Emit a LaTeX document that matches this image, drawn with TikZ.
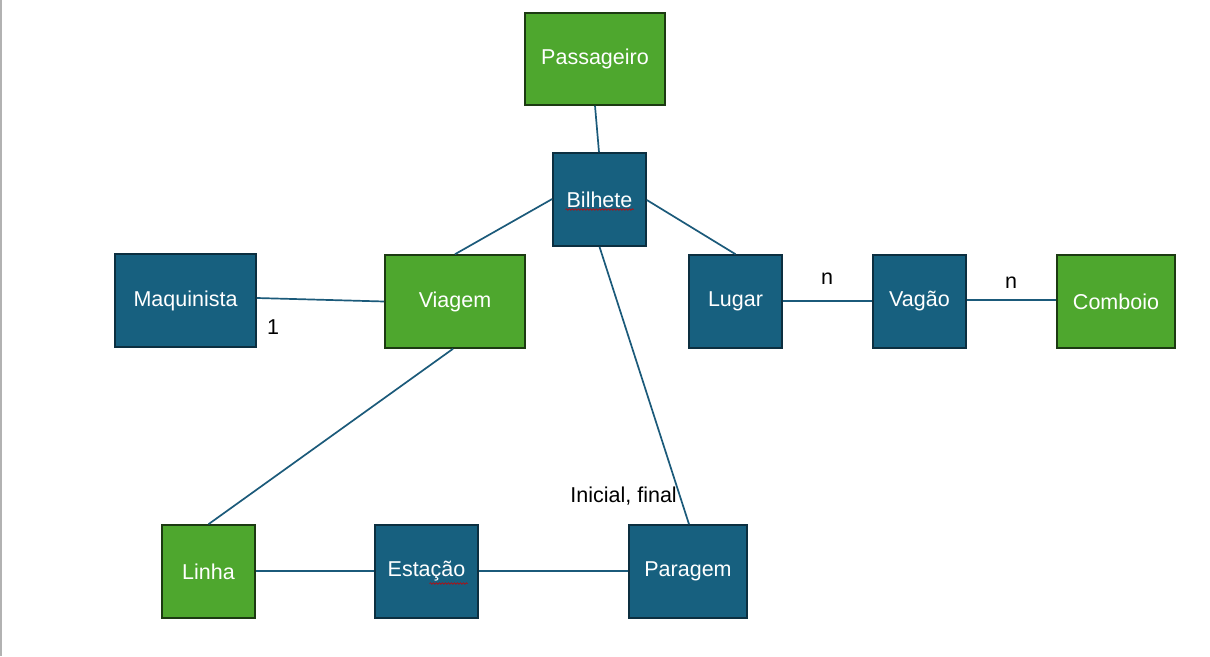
\documentclass[tikz,border=0pt]{standalone}
\usepackage{fontspec}
\setmainfont{Liberation Sans}
\usetikzlibrary{decorations.pathmorphing}
\definecolor{bfill}{HTML}{17607F}
\definecolor{bline}{HTML}{0C2F40}
\definecolor{gfill}{HTML}{4EA72E}
\definecolor{gline}{HTML}{1C3A12}
\definecolor{conn}{HTML}{1B5A7A}
\begin{document}
\begin{tikzpicture}[x=1pt,y=-1pt,
  ent/.style={draw=bline,fill=bfill,line width=1.6pt,text=white,font=\fontsize{21.5}{24}\selectfont,inner sep=0pt},
  gent/.style={ent,draw=gline,fill=gfill},
  link/.style={draw=conn,line width=1.7pt},
  lbl/.style={text=black,font=\fontsize{21.5}{24}\selectfont,inner sep=0pt},
  squig/.style={draw=red!80!black,line width=0.6pt,decorate,decoration={snake,amplitude=0.8pt,segment length=3pt}}]
\useasboundingbox[fill=white] (0,0) rectangle (1210,656);
\draw[gray!60,line width=1.5pt] (0.75,0) -- (0.75,656);
% entities
\node[gent,minimum width=140pt,minimum height=92pt] (pass) at (595,59) {Passageiro};
\node[ent,minimum width=93pt,minimum height=93pt] (bil) at (599.5,199.5) {Bilhete};
\node[ent,minimum width=141pt,minimum height=93pt] (maq) at (185.5,300.5) {Maquinista};
\node[gent,minimum width=140pt,minimum height=93pt] (via) at (455,301.5) {Viagem};
\node[ent,minimum width=93pt,minimum height=93pt] (lug) at (735.5,301.5) {Lugar};
\node[ent,minimum width=93pt,minimum height=93pt] (vag) at (919.5,301.5) {Vagão};
\node[gent,minimum width=118pt,minimum height=93pt] (com) at (1116,301.5) {Comboio};
\node[gent,minimum width=93pt,minimum height=93pt] (lin) at (208.5,571.5) {Linha};
\node[ent,minimum width=103pt,minimum height=93pt] (est) at (426.5,571.5) {Estação};
\node[ent,minimum width=118pt,minimum height=93pt] (par) at (688,571.5) {Paragem};
% spellcheck marks
\draw[squig] ([xshift=-34pt,yshift=-10pt]bil.center) -- ([xshift=34pt,yshift=-10pt]bil.center);
\draw[squig] ([xshift=3pt,yshift=-12pt]est.center) -- ([xshift=41pt,yshift=-12pt]est.center);
% connectors
\draw[link] (pass.south) -- ([xshift=-0.5pt]bil.north);
\draw[link] ([yshift=0.5pt]bil.west) -- (via.north);
\draw[link] ([yshift=-0.5pt]bil.east) -- (lug.north);
\draw[link] (bil.south) -- ([xshift=1pt]par.north);
\draw[link] ([yshift=2.5pt]maq.east) -- (via.west);
\draw[link] ([xshift=-2pt]via.south) -- (lin.north);
\draw[link] ([yshift=0.5pt]lug.east) -- ([yshift=0.5pt]vag.west);
\draw[link] ([yshift=1.5pt]vag.east) -- ([yshift=1.5pt]com.west);
\draw[link] ([yshift=0.5pt]lin.east) -- ([yshift=0.5pt]est.west);
\draw[link] ([yshift=0.5pt]est.east) -- ([yshift=0.5pt]par.west);
% labels
\node[lbl] (l1) at (273,327) {1};
\node[lbl] (ln1) at (827,279) {n};
\node[lbl] (ln2) at (1011,283) {n};
\node[lbl,anchor=east] (lif) at (677,496) {Inicial, final};
\end{tikzpicture}
\end{document}
